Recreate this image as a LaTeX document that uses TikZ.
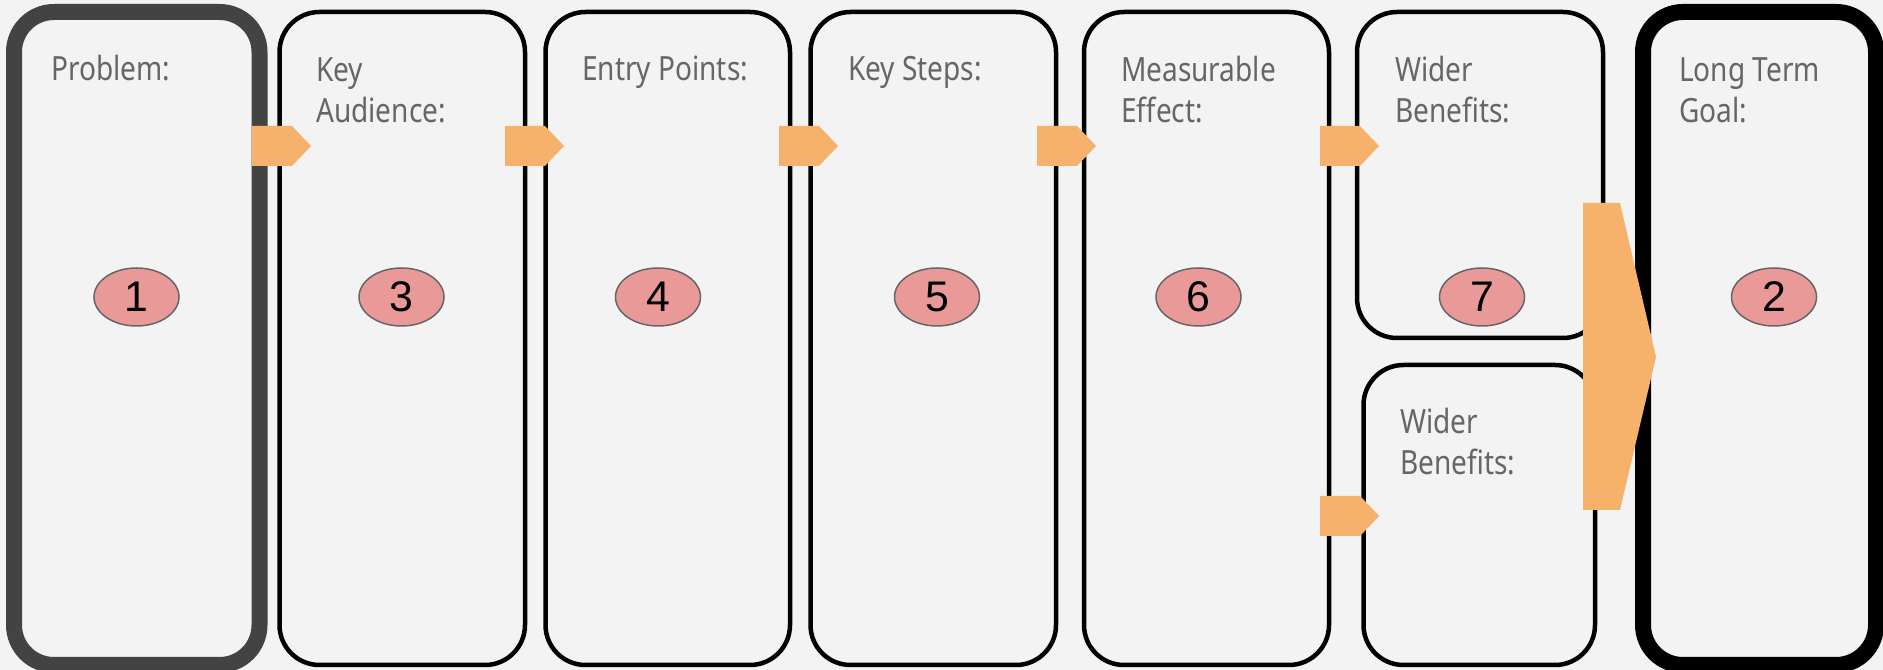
\documentclass[tikz,border=0pt]{standalone}
\usepackage{fontspec}
\newfontfamily\labelfont{Noto Sans}[FakeStretch=0.84]
\newfontfamily\numfont{Liberation Sans}
\usetikzlibrary{shapes.geometric}
\definecolor{bgcol}{HTML}{F3F3F3}
\definecolor{labelgray}{HTML}{666666}
\definecolor{framegray}{HTML}{434343}
\definecolor{badgefill}{HTML}{EA9999}
\definecolor{arrowfill}{HTML}{F6B26B}
\tikzset{
  card/.style={draw=black,line width=4.5bp,rounded corners=40bp,fill=bgcol,rectangle,inner sep=0pt},
  heavycard/.style={card,line width=16bp},
  caption/.style={anchor=base west,align=left,inner sep=0pt,text=labelgray,font=\labelfont\fontsize{33.5}{42}\selectfont},
  badge/.style={ellipse,draw=labelgray,fill=badgefill,line width=1.5bp,minimum width=85bp,minimum height=58bp,inner sep=0pt,font=\numfont\fontsize{43}{43}\selectfont},
}
\begin{document}
\begin{tikzpicture}[line join=miter]
\useasboundingbox (0bp,0bp) rectangle (1883bp,670bp);
\fill [bgcol] (0bp,0bp) rectangle (1883bp,670bp);
%% cards
\node (problem) at (136.75bp,331.5bp) [heavycard,draw=framegray,minimum width=245.5bp,minimum height=653bp] {};
  \node (audience) at (402.25bp,331.5bp) [card,minimum width=245.5bp,minimum height=653bp] {};
  \node (entry) at (667.75bp,331.5bp) [card,minimum width=244.5bp,minimum height=653bp] {};
  \node (steps) at (933.25bp,331.5bp) [card,minimum width=245.5bp,minimum height=653bp] {};
  \node (effect) at (1206.5bp,331.5bp) [card,minimum width=245bp,minimum height=653bp] {};
  \node (benefits_a) at (1480bp,495bp) [card,minimum width=246bp,minimum height=326bp] {};
  \node (benefits_b) at (1479.25bp,155bp) [card,minimum width=231.5bp,minimum height=300bp] {};
  \node (goal) at (1759.5bp,331.5bp) [heavycard,minimum width=233bp,minimum height=653bp] {};
%% block arrows
\fill [arrowfill] (252bp,544bp) -- (292bp,544bp) -- (311bp,524bp) -- (292bp,504bp) -- (252bp,504bp) -- cycle;
  \fill [arrowfill] (505bp,544bp) -- (545bp,544bp) -- (564bp,524bp) -- (545bp,504bp) -- (505bp,504bp) -- cycle;
  \fill [arrowfill] (779bp,544bp) -- (819bp,544bp) -- (838bp,524bp) -- (819bp,504bp) -- (779bp,504bp) -- cycle;
  \fill [arrowfill] (1037bp,544bp) -- (1077bp,544bp) -- (1096bp,524bp) -- (1077bp,504bp) -- (1037bp,504bp) -- cycle;
  \fill [arrowfill] (1320bp,544bp) -- (1360bp,544bp) -- (1379bp,524bp) -- (1360bp,504bp) -- (1320bp,504bp) -- cycle;
  \fill [arrowfill] (1320bp,174bp) -- (1360bp,174bp) -- (1379bp,154bp) -- (1360bp,134bp) -- (1320bp,134bp) -- cycle;
  \fill [arrowfill] (1583bp,467bp) -- (1620bp,467bp) -- (1656bp,313bp) -- (1620bp,160bp) -- (1583bp,160bp) -- cycle;
%% captions (base = last line)
\node (problem_txt) at (51bp,589bp) [caption] {Problem:};
  \node (audience_txt) at (316bp,547bp) [caption] {Key\\Audience:};
  \node (entry_txt) at (582bp,589bp) [caption] {Entry Points:};
  \node (steps_txt) at (848bp,589bp) [caption] {Key Steps:};
  \node (effect_txt) at (1121bp,547bp) [caption] {Measurable\\Effect:};
  \node (benefits_a_txt) at (1395bp,547bp) [caption] {Wider\\Benefits:};
  \node (benefits_b_txt) at (1400bp,195bp) [caption] {Wider\\Benefits:};
  \node (goal_txt) at (1679bp,547bp) [caption] {Long Term\\Goal:};
%% numbers
\node (n1) at (136.5bp,373bp) [badge] {1};
  \node (n3) at (401.5bp,373bp) [badge] {3};
  \node (n4) at (658bp,373bp) [badge] {4};
  \node (n5) at (937bp,373bp) [badge] {5};
  \node (n6) at (1198.5bp,373bp) [badge] {6};
  \node (n7) at (1482bp,373bp) [badge] {7};
  \node (n2) at (1774bp,373bp) [badge] {2};
%
\end{tikzpicture}
\end{document}
